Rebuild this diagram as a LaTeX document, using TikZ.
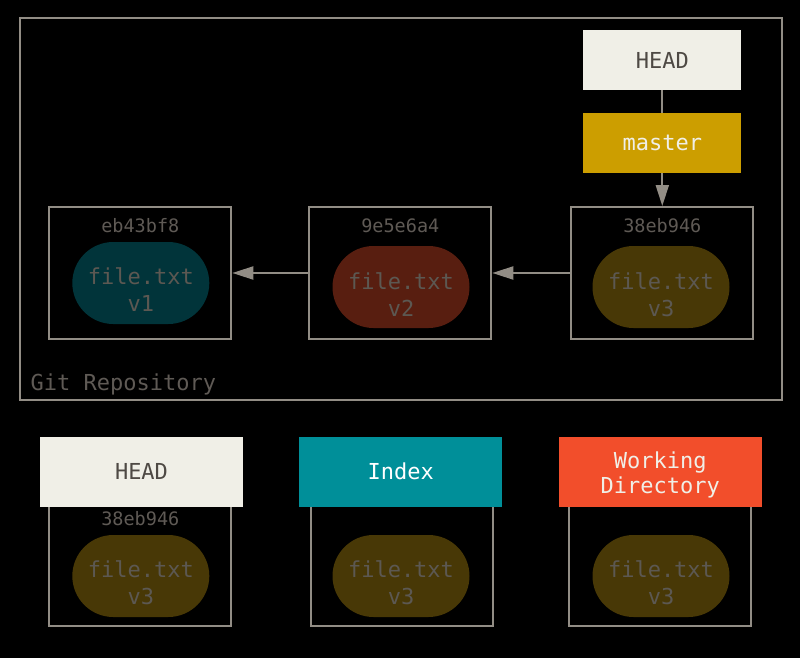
\documentclass[tikz,border=0pt]{standalone}
\usepackage{fontspec}
\newfontfamily\gitmono{DejaVu Sans Mono}
\usetikzlibrary{arrows.meta}
\definecolor{linegray}{RGB}{146,141,133}
\definecolor{hashgray}{RGB}{95,90,85}
\definecolor{blobtext}{RGB}{92,88,82}
\definecolor{headfill}{RGB}{240,239,231}
\definecolor{headtext}{RGB}{78,73,68}
\definecolor{masterfill}{RGB}{204,158,0}
\definecolor{indexfill}{RGB}{0,143,153}
\definecolor{wdfill}{RGB}{242,78,43}
\definecolor{blobone}{RGB}{1,52,58}
\definecolor{blobtwo}{RGB}{88,30,16}
\definecolor{blobthree}{RGB}{72,56,6}
\tikzset{
  big/.style={font=\gitmono\fontsize{22}{27}\selectfont},
  commitbox/.style={draw=linegray, line width=2pt, minimum width=182pt, minimum height=132pt, inner sep=0pt},
  lowbox/.style={draw=linegray, line width=2pt, minimum width=182pt, minimum height=120pt, inner sep=0pt},
  blob/.style={rounded corners=41pt, minimum width=137pt, minimum height=82pt, inner sep=0pt},
  blobtxt/.style={big, text=blobtext, align=center, inner sep=0pt},
  hash/.style={font=\gitmono\fontsize{18.5}{22}\selectfont, text=hashgray, inner sep=0pt},
  header/.style={big, minimum width=203pt, minimum height=70pt, inner sep=0pt, align=center},
  refbox/.style={big, minimum width=158pt, minimum height=60pt, inner sep=0pt},
  conn/.style={draw=linegray, line width=2pt},
  tip/.style={-{Triangle[length=21pt,width=13pt]}}
}
\begin{document}
\begin{tikzpicture}[x=1pt,y=-1pt]
\useasboundingbox[fill=black] (0,0) rectangle (800,658);
% repository frame
\node[draw=linegray, line width=2pt, minimum width=762pt, minimum height=382pt, inner sep=0pt] (repo) at (401,209) {};
\node[big, text=hashgray, anchor=west, inner sep=0pt] (repolabel) at (30.5,384) {Git Repository};
% refs
\node[refbox, fill=headfill, text=headtext] (head) at (662.3,60) {HEAD};
\node[refbox, fill=masterfill, text=headfill] (master) at (662.3,143) {master};
% commits
\node[commitbox] (c1) at (140.3,273) {};
\node[commitbox] (c2) at (400.3,273) {};
\node[commitbox] (c3) at (662.3,273) {};
\node[hash] (h1) at (140.3,225.5) {eb43bf8};
\node[hash] (h2) at (400.3,225.5) {9e5e6a4};
\node[hash] (h3) at (662.3,225.5) {38eb946};
\node[blob, fill=blobone] (b1) at (140.8,283) {};
\node[blob, fill=blobtwo] (b2) at (401,287) {};
\node[blob, fill=blobthree] (b3) at (661,287) {};
\node[blobtxt] (t1) at ([yshift=-7pt]b1.center) {file.txt\\v1};
\node[blobtxt] (t2) at ([yshift=-7.5pt]b2.center) {file.txt\\v2};
\node[blobtxt] (t3) at ([yshift=-7.5pt]b3.center) {file.txt\\v3};
% connectors
\draw[conn] (head.south) -- (master.north);
\draw[conn, tip] (master.south) -- (c3.north);
\draw[conn, tip] (c3.west) -- (c2.east);
\draw[conn, tip] (c2.west) -- (c1.east);
% lower trees
\node[lowbox] (l1) at (140.3,566) {};
\node[lowbox] (l2) at (401.7,566) {};
\node[lowbox] (l3) at (660.3,566) {};
\node[header, fill=headfill, text=headtext] (th) at (141.5,471.5) {HEAD};
\node[header, fill=indexfill, text=white] (ti) at (400.8,471.5) {Index};
\node[header, fill=wdfill] (tw) at (660.2,471.5) {};
\node[text=headfill, font=\gitmono\fontsize{22}{25}\selectfont, align=center, inner sep=0pt] (twt) at ([yshift=-3pt]tw.center) {Working\\Directory};
\node[hash] (h4) at (140.3,519) {38eb946};
\node[blob, fill=blobthree] (b4) at (140.8,576) {};
\node[blob, fill=blobthree] (b5) at (401,576) {};
\node[blob, fill=blobthree] (b6) at (661,576) {};
\node[blobtxt] (t4) at ([yshift=-7pt]b4.center) {file.txt\\v3};
\node[blobtxt] (t5) at ([yshift=-7pt]b5.center) {file.txt\\v3};
\node[blobtxt] (t6) at ([yshift=-7pt]b6.center) {file.txt\\v3};
\end{tikzpicture}
\end{document}
